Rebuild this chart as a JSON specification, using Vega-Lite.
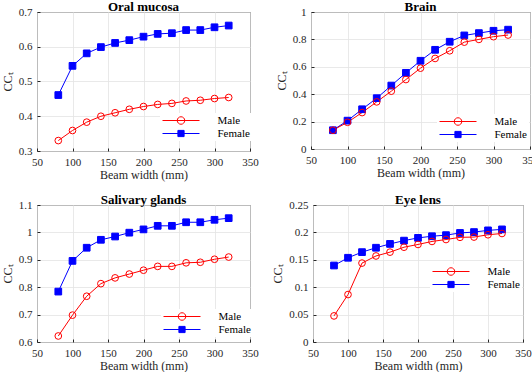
{
  "$schema": "https://vega.github.io/schema/vega-lite/v6.json",
  "padding": {"left": 0, "top": 0, "right": 0, "bottom": 0},
  "datasets": {
    "d": [
      {"organ": "Oral mucosa", "sex": "Female", "bw": 80, "cc": 0.461},
      {"organ": "Oral mucosa", "sex": "Female", "bw": 100, "cc": 0.545},
      {"organ": "Oral mucosa", "sex": "Female", "bw": 120, "cc": 0.581},
      {"organ": "Oral mucosa", "sex": "Female", "bw": 140, "cc": 0.599},
      {"organ": "Oral mucosa", "sex": "Female", "bw": 160, "cc": 0.611},
      {"organ": "Oral mucosa", "sex": "Female", "bw": 180, "cc": 0.619},
      {"organ": "Oral mucosa", "sex": "Female", "bw": 200, "cc": 0.629},
      {"organ": "Oral mucosa", "sex": "Female", "bw": 220, "cc": 0.637},
      {"organ": "Oral mucosa", "sex": "Female", "bw": 240, "cc": 0.639},
      {"organ": "Oral mucosa", "sex": "Female", "bw": 260, "cc": 0.648},
      {"organ": "Oral mucosa", "sex": "Female", "bw": 280, "cc": 0.648},
      {"organ": "Oral mucosa", "sex": "Female", "bw": 300, "cc": 0.656},
      {"organ": "Oral mucosa", "sex": "Female", "bw": 320, "cc": 0.661},
      {"organ": "Oral mucosa", "sex": "Male", "bw": 80, "cc": 0.330},
      {"organ": "Oral mucosa", "sex": "Male", "bw": 100, "cc": 0.359},
      {"organ": "Oral mucosa", "sex": "Male", "bw": 120, "cc": 0.383},
      {"organ": "Oral mucosa", "sex": "Male", "bw": 140, "cc": 0.400},
      {"organ": "Oral mucosa", "sex": "Male", "bw": 160, "cc": 0.410},
      {"organ": "Oral mucosa", "sex": "Male", "bw": 180, "cc": 0.420},
      {"organ": "Oral mucosa", "sex": "Male", "bw": 200, "cc": 0.428},
      {"organ": "Oral mucosa", "sex": "Male", "bw": 220, "cc": 0.434},
      {"organ": "Oral mucosa", "sex": "Male", "bw": 240, "cc": 0.437},
      {"organ": "Oral mucosa", "sex": "Male", "bw": 260, "cc": 0.444},
      {"organ": "Oral mucosa", "sex": "Male", "bw": 280, "cc": 0.446},
      {"organ": "Oral mucosa", "sex": "Male", "bw": 300, "cc": 0.451},
      {"organ": "Oral mucosa", "sex": "Male", "bw": 320, "cc": 0.454},
      {"organ": "Brain", "sex": "Female", "bw": 80, "cc": 0.137},
      {"organ": "Brain", "sex": "Female", "bw": 100, "cc": 0.207},
      {"organ": "Brain", "sex": "Female", "bw": 120, "cc": 0.290},
      {"organ": "Brain", "sex": "Female", "bw": 140, "cc": 0.371},
      {"organ": "Brain", "sex": "Female", "bw": 160, "cc": 0.463},
      {"organ": "Brain", "sex": "Female", "bw": 180, "cc": 0.556},
      {"organ": "Brain", "sex": "Female", "bw": 200, "cc": 0.644},
      {"organ": "Brain", "sex": "Female", "bw": 220, "cc": 0.724},
      {"organ": "Brain", "sex": "Female", "bw": 240, "cc": 0.783},
      {"organ": "Brain", "sex": "Female", "bw": 260, "cc": 0.829},
      {"organ": "Brain", "sex": "Female", "bw": 280, "cc": 0.846},
      {"organ": "Brain", "sex": "Female", "bw": 300, "cc": 0.863},
      {"organ": "Brain", "sex": "Female", "bw": 320, "cc": 0.871},
      {"organ": "Brain", "sex": "Male", "bw": 80, "cc": 0.137},
      {"organ": "Brain", "sex": "Male", "bw": 100, "cc": 0.195},
      {"organ": "Brain", "sex": "Male", "bw": 120, "cc": 0.266},
      {"organ": "Brain", "sex": "Male", "bw": 140, "cc": 0.344},
      {"organ": "Brain", "sex": "Male", "bw": 160, "cc": 0.422},
      {"organ": "Brain", "sex": "Male", "bw": 180, "cc": 0.507},
      {"organ": "Brain", "sex": "Male", "bw": 200, "cc": 0.590},
      {"organ": "Brain", "sex": "Male", "bw": 220, "cc": 0.661},
      {"organ": "Brain", "sex": "Male", "bw": 240, "cc": 0.717},
      {"organ": "Brain", "sex": "Male", "bw": 260, "cc": 0.780},
      {"organ": "Brain", "sex": "Male", "bw": 280, "cc": 0.800},
      {"organ": "Brain", "sex": "Male", "bw": 300, "cc": 0.820},
      {"organ": "Brain", "sex": "Male", "bw": 320, "cc": 0.832},
      {"organ": "Salivary glands", "sex": "Female", "bw": 80, "cc": 0.784},
      {"organ": "Salivary glands", "sex": "Female", "bw": 100, "cc": 0.896},
      {"organ": "Salivary glands", "sex": "Female", "bw": 120, "cc": 0.944},
      {"organ": "Salivary glands", "sex": "Female", "bw": 140, "cc": 0.973},
      {"organ": "Salivary glands", "sex": "Female", "bw": 160, "cc": 0.985},
      {"organ": "Salivary glands", "sex": "Female", "bw": 180, "cc": 0.999},
      {"organ": "Salivary glands", "sex": "Female", "bw": 200, "cc": 1.011},
      {"organ": "Salivary glands", "sex": "Female", "bw": 220, "cc": 1.024},
      {"organ": "Salivary glands", "sex": "Female", "bw": 240, "cc": 1.024},
      {"organ": "Salivary glands", "sex": "Female", "bw": 260, "cc": 1.037},
      {"organ": "Salivary glands", "sex": "Female", "bw": 280, "cc": 1.037},
      {"organ": "Salivary glands", "sex": "Female", "bw": 300, "cc": 1.046},
      {"organ": "Salivary glands", "sex": "Female", "bw": 320, "cc": 1.052},
      {"organ": "Salivary glands", "sex": "Male", "bw": 80, "cc": 0.622},
      {"organ": "Salivary glands", "sex": "Male", "bw": 100, "cc": 0.698},
      {"organ": "Salivary glands", "sex": "Male", "bw": 120, "cc": 0.767},
      {"organ": "Salivary glands", "sex": "Male", "bw": 140, "cc": 0.813},
      {"organ": "Salivary glands", "sex": "Male", "bw": 160, "cc": 0.834},
      {"organ": "Salivary glands", "sex": "Male", "bw": 180, "cc": 0.848},
      {"organ": "Salivary glands", "sex": "Male", "bw": 200, "cc": 0.862},
      {"organ": "Salivary glands", "sex": "Male", "bw": 220, "cc": 0.876},
      {"organ": "Salivary glands", "sex": "Male", "bw": 240, "cc": 0.876},
      {"organ": "Salivary glands", "sex": "Male", "bw": 260, "cc": 0.889},
      {"organ": "Salivary glands", "sex": "Male", "bw": 280, "cc": 0.891},
      {"organ": "Salivary glands", "sex": "Male", "bw": 300, "cc": 0.902},
      {"organ": "Salivary glands", "sex": "Male", "bw": 320, "cc": 0.910},
      {"organ": "Eye lens", "sex": "Female", "bw": 80, "cc": 0.1396},
      {"organ": "Eye lens", "sex": "Female", "bw": 100, "cc": 0.1537},
      {"organ": "Eye lens", "sex": "Female", "bw": 120, "cc": 0.164},
      {"organ": "Eye lens", "sex": "Female", "bw": 140, "cc": 0.172},
      {"organ": "Eye lens", "sex": "Female", "bw": 160, "cc": 0.179},
      {"organ": "Eye lens", "sex": "Female", "bw": 180, "cc": 0.185},
      {"organ": "Eye lens", "sex": "Female", "bw": 200, "cc": 0.190},
      {"organ": "Eye lens", "sex": "Female", "bw": 220, "cc": 0.193},
      {"organ": "Eye lens", "sex": "Female", "bw": 240, "cc": 0.195},
      {"organ": "Eye lens", "sex": "Female", "bw": 260, "cc": 0.199},
      {"organ": "Eye lens", "sex": "Female", "bw": 280, "cc": 0.2006},
      {"organ": "Eye lens", "sex": "Female", "bw": 300, "cc": 0.2037},
      {"organ": "Eye lens", "sex": "Female", "bw": 320, "cc": 0.2055},
      {"organ": "Eye lens", "sex": "Male", "bw": 80, "cc": 0.0476},
      {"organ": "Eye lens", "sex": "Male", "bw": 100, "cc": 0.0866},
      {"organ": "Eye lens", "sex": "Male", "bw": 120, "cc": 0.144},
      {"organ": "Eye lens", "sex": "Male", "bw": 140, "cc": 0.157},
      {"organ": "Eye lens", "sex": "Male", "bw": 160, "cc": 0.164},
      {"organ": "Eye lens", "sex": "Male", "bw": 180, "cc": 0.173},
      {"organ": "Eye lens", "sex": "Male", "bw": 200, "cc": 0.178},
      {"organ": "Eye lens", "sex": "Male", "bw": 220, "cc": 0.1835},
      {"organ": "Eye lens", "sex": "Male", "bw": 240, "cc": 0.187},
      {"organ": "Eye lens", "sex": "Male", "bw": 260, "cc": 0.191},
      {"organ": "Eye lens", "sex": "Male", "bw": 280, "cc": 0.1915},
      {"organ": "Eye lens", "sex": "Male", "bw": 300, "cc": 0.1957},
      {"organ": "Eye lens", "sex": "Male", "bw": 320, "cc": 0.198}
    ]
  },
  "data": {"name": "d"},
  "spacing": 12,
  "resolve": {"legend": {"shape": "independent", "fill": "independent", "stroke": "independent"}},
  "vconcat": [
    {
      "spacing": 15,
      "resolve": {"legend": {"shape": "independent", "fill": "independent", "stroke": "independent"}},
      "hconcat": [
        {
          "title": "Oral mucosa",
          "width": 213, "height": 139,
          "transform": [{"filter": "datum.organ === 'Oral mucosa'"}],
          "encoding": {
            "x": {"field": "bw", "type": "quantitative", "scale": {"domain": [50, 350]}, "axis": {"values": [50, 100, 150, 200, 250, 300, 350], "title": "Beam width (mm)"}},
            "y": {"field": "cc", "type": "quantitative", "scale": {"domain": [0.3, 0.7]}, "axis": {"values": [0.3, 0.4, 0.5, 0.6, 0.7], "title": "CCₜ"}}
          },
          "layer": [
            {"mark": {"type": "line", "strokeWidth": 1},
             "encoding": {"color": {"field": "sex", "type": "nominal", "scale": {"domain": ["Male", "Female"], "range": ["#ff0000", "#0000ff"]}, "legend": null}}},
            {"mark": {"type": "point", "filled": true, "strokeWidth": 1, "size": 45, "opacity": 1},
             "encoding": {
               "shape": {"condition": {"test": "datum.sex === 'Male'", "value": "circle"}, "value": "square"},
               "fill": {"condition": {"test": "datum.sex === 'Male'", "value": "transparent"}, "value": "#0000ff"},
               "stroke": {"condition": {"test": "datum.sex === 'Male'", "value": "#ff0000"}, "value": "#0000ff"}
             }},
            {"mark": {"type": "point", "filled": true, "opacity": 0},
             "encoding": {
               "shape": {"field": "sex", "type": "nominal", "scale": {"domain": ["Male", "Female"], "range": ["M-3.7,0H3.7M0.75,0A0.75,0.75 0 1,1 -0.75,0A0.75,0.75 0 1,1 0.75,0", "M-3.7,0H3.7M-0.62,-0.62H0.62V0.62H-0.62Z"]},
                 "legend": {"orient": "none", "legendX": 123, "legendY": 101}},
               "fill": {"field": "sex", "type": "nominal", "scale": {"domain": ["Male", "Female"], "range": ["transparent", "#0000ff"]},
                 "legend": {"orient": "none", "legendX": 123, "legendY": 101}},
               "stroke": {"field": "sex", "type": "nominal", "scale": {"domain": ["Male", "Female"], "range": ["#ff0000", "#0000ff"]},
                 "legend": {"orient": "none", "legendX": 123, "legendY": 101}}
             }}
          ]
        },
        {
          "title": "Brain",
          "width": 219, "height": 137,
          "transform": [{"filter": "datum.organ === 'Brain'"}],
          "encoding": {
            "x": {"field": "bw", "type": "quantitative", "scale": {"domain": [50, 350]}, "axis": {"values": [50, 100, 150, 200, 250, 300, 350], "title": "Beam width (mm)"}},
            "y": {"field": "cc", "type": "quantitative", "scale": {"domain": [0, 1]}, "axis": {"values": [0, 0.2, 0.4, 0.6, 0.8, 1], "title": "CCₜ"}}
          },
          "layer": [
            {"mark": {"type": "line", "strokeWidth": 1},
             "encoding": {"color": {"field": "sex", "type": "nominal", "scale": {"domain": ["Male", "Female"], "range": ["#ff0000", "#0000ff"]}, "legend": null}}},
            {"mark": {"type": "point", "filled": true, "strokeWidth": 1, "size": 45, "opacity": 1},
             "encoding": {
               "shape": {"condition": {"test": "datum.sex === 'Male'", "value": "circle"}, "value": "square"},
               "fill": {"condition": {"test": "datum.sex === 'Male'", "value": "transparent"}, "value": "#0000ff"},
               "stroke": {"condition": {"test": "datum.sex === 'Male'", "value": "#ff0000"}, "value": "#0000ff"}
             }},
            {"mark": {"type": "point", "filled": true, "opacity": 0},
             "encoding": {
               "shape": {"field": "sex", "type": "nominal", "scale": {"domain": ["Male", "Female"], "range": ["M-3.7,0H3.7M0.75,0A0.75,0.75 0 1,1 -0.75,0A0.75,0.75 0 1,1 0.75,0", "M-3.7,0H3.7M-0.62,-0.62H0.62V0.62H-0.62Z"]},
                 "legend": {"orient": "none", "legendX": 126, "legendY": 102}},
               "fill": {"field": "sex", "type": "nominal", "scale": {"domain": ["Male", "Female"], "range": ["transparent", "#0000ff"]},
                 "legend": {"orient": "none", "legendX": 126, "legendY": 102}},
               "stroke": {"field": "sex", "type": "nominal", "scale": {"domain": ["Male", "Female"], "range": ["#ff0000", "#0000ff"]},
                 "legend": {"orient": "none", "legendX": 126, "legendY": 102}}
             }}
          ]
        }
      ]
    },
    {
      "spacing": 12,
      "resolve": {"legend": {"shape": "independent", "fill": "independent", "stroke": "independent"}},
      "hconcat": [
        {
          "title": "Salivary glands",
          "width": 213, "height": 137,
          "transform": [{"filter": "datum.organ === 'Salivary glands'"}],
          "encoding": {
            "x": {"field": "bw", "type": "quantitative", "scale": {"domain": [50, 350]}, "axis": {"values": [50, 100, 150, 200, 250, 300, 350], "title": "Beam width (mm)"}},
            "y": {"field": "cc", "type": "quantitative", "scale": {"domain": [0.6, 1.1]}, "axis": {"values": [0.6, 0.7, 0.8, 0.9, 1, 1.1], "title": "CCₜ"}}
          },
          "layer": [
            {"mark": {"type": "line", "strokeWidth": 1},
             "encoding": {"color": {"field": "sex", "type": "nominal", "scale": {"domain": ["Male", "Female"], "range": ["#ff0000", "#0000ff"]}, "legend": null}}},
            {"mark": {"type": "point", "filled": true, "strokeWidth": 1, "size": 45, "opacity": 1},
             "encoding": {
               "shape": {"condition": {"test": "datum.sex === 'Male'", "value": "circle"}, "value": "square"},
               "fill": {"condition": {"test": "datum.sex === 'Male'", "value": "transparent"}, "value": "#0000ff"},
               "stroke": {"condition": {"test": "datum.sex === 'Male'", "value": "#ff0000"}, "value": "#0000ff"}
             }},
            {"mark": {"type": "point", "filled": true, "opacity": 0},
             "encoding": {
               "shape": {"field": "sex", "type": "nominal", "scale": {"domain": ["Male", "Female"], "range": ["M-3.7,0H3.7M0.75,0A0.75,0.75 0 1,1 -0.75,0A0.75,0.75 0 1,1 0.75,0", "M-3.7,0H3.7M-0.62,-0.62H0.62V0.62H-0.62Z"]},
                 "legend": {"orient": "none", "legendX": 124, "legendY": 104}},
               "fill": {"field": "sex", "type": "nominal", "scale": {"domain": ["Male", "Female"], "range": ["transparent", "#0000ff"]},
                 "legend": {"orient": "none", "legendX": 124, "legendY": 104}},
               "stroke": {"field": "sex", "type": "nominal", "scale": {"domain": ["Male", "Female"], "range": ["#ff0000", "#0000ff"]},
                 "legend": {"orient": "none", "legendX": 124, "legendY": 104}}
             }}
          ]
        },
        {
          "title": "Eye lens",
          "width": 210, "height": 137,
          "transform": [{"filter": "datum.organ === 'Eye lens'"}],
          "encoding": {
            "x": {"field": "bw", "type": "quantitative", "scale": {"domain": [50, 350]}, "axis": {"values": [50, 100, 150, 200, 250, 300, 350], "title": "Beam width (mm)"}},
            "y": {"field": "cc", "type": "quantitative", "scale": {"domain": [0, 0.25]}, "axis": {"values": [0, 0.05, 0.1, 0.15, 0.2, 0.25], "title": "CCₜ"}}
          },
          "layer": [
            {"mark": {"type": "line", "strokeWidth": 1},
             "encoding": {"color": {"field": "sex", "type": "nominal", "scale": {"domain": ["Male", "Female"], "range": ["#ff0000", "#0000ff"]}, "legend": null}}},
            {"mark": {"type": "point", "filled": true, "strokeWidth": 1, "size": 45, "opacity": 1},
             "encoding": {
               "shape": {"condition": {"test": "datum.sex === 'Male'", "value": "circle"}, "value": "square"},
               "fill": {"condition": {"test": "datum.sex === 'Male'", "value": "transparent"}, "value": "#0000ff"},
               "stroke": {"condition": {"test": "datum.sex === 'Male'", "value": "#ff0000"}, "value": "#0000ff"}
             }},
            {"mark": {"type": "point", "filled": true, "opacity": 0},
             "encoding": {
               "shape": {"field": "sex", "type": "nominal", "scale": {"domain": ["Male", "Female"], "range": ["M-3.7,0H3.7M0.75,0A0.75,0.75 0 1,1 -0.75,0A0.75,0.75 0 1,1 0.75,0", "M-3.7,0H3.7M-0.62,-0.62H0.62V0.62H-0.62Z"]},
                 "legend": {"orient": "none", "legendX": 117, "legendY": 59}},
               "fill": {"field": "sex", "type": "nominal", "scale": {"domain": ["Male", "Female"], "range": ["transparent", "#0000ff"]},
                 "legend": {"orient": "none", "legendX": 117, "legendY": 59}},
               "stroke": {"field": "sex", "type": "nominal", "scale": {"domain": ["Male", "Female"], "range": ["#ff0000", "#0000ff"]},
                 "legend": {"orient": "none", "legendX": 117, "legendY": 59}}
             }}
          ]
        }
      ]
    }
  ],
  "config": {
    "font": "Liberation Serif",
    "view": {"stroke": "#262626", "strokeWidth": 1},
    "title": {"fontSize": 13, "fontWeight": "bold", "font": "Liberation Serif", "color": "#000000", "offset": -8},
    "axis": {
      "labelFont": "Liberation Serif", "labelFontSize": 11, "labelColor": "#262626", "labelFlush": false,
      "titleFont": "Liberation Serif", "titleFontSize": 12, "titleFontWeight": "normal", "titleColor": "#262626",
      "domain": false, "grid": true, "gridColor": "#e3e3e3", "gridWidth": 0.8,
      "tickColor": "#262626", "tickSize": -3, "labelPadding": 8
    },
    "axisY": {"titlePadding": 4, "format": "~f"},
    "axisX": {"titlePadding": 2},
    "legend": {
      "title": null, "fillColor": "#ffffff", "padding": 2,
      "labelFont": "Liberation Serif", "labelFontSize": 11, "labelColor": "#000000",
      "symbolSize": 100, "symbolOffset": 13.5, "labelOffset": 31, "rowPadding": 0, "symbolStrokeWidth": 1, "symbolOpacity": 1
    }
  }
}
